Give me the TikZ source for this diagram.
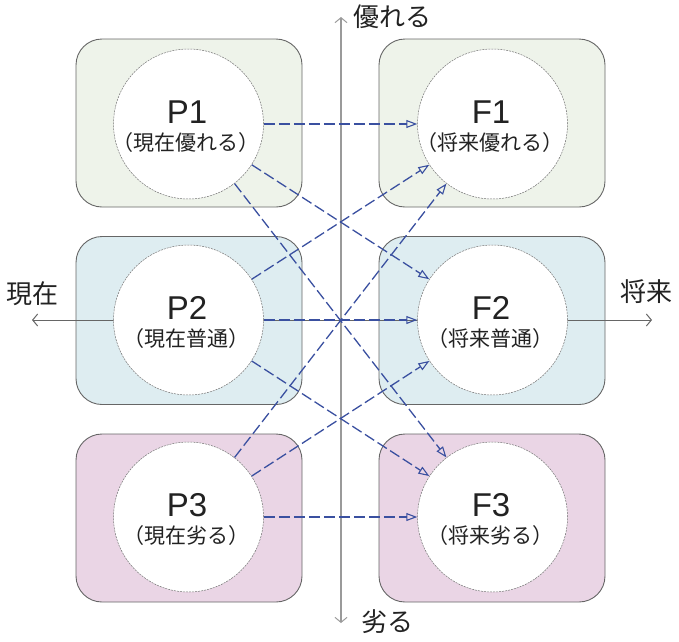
\documentclass[tikz,border=0pt]{standalone}
\usepackage{fontspec}
\setmainfont{Noto Sans CJK JP}
\newfontfamily\latinfont{Liberation Sans}
\usetikzlibrary{arrows.meta}
\definecolor{rowA}{HTML}{EEF3EA}
\definecolor{rowB}{HTML}{DEEDF1}
\definecolor{rowC}{HTML}{EAD5E5}
\definecolor{conn}{HTML}{3A50A0}
\definecolor{txt}{HTML}{222222}
\definecolor{axisgray}{HTML}{9A9A9A}
\tikzset{
  panel/.style={draw=black!60, line width=0.9pt, rounded corners=26pt, minimum width=226pt, minimum height=168pt, inner sep=0pt},
  bubble/.style={circle, fill=white, draw=black!55, line width=0.5pt, dash pattern=on 2pt off 1pt, minimum size=150pt, inner sep=0pt},
  bigtxt/.style={text=txt, font=\latinfont\fontsize{33}{36}\selectfont, inner sep=0pt},
  subtxt/.style={text=txt, font=\fontsize{21}{24}\selectfont, inner sep=0pt},
  axlabel/.style={text=txt, font=\fontsize{26}{28}\selectfont, inner sep=0pt},
  axisline/.style={draw=axisgray, line width=1.3pt, -{Straight Barb[length=5pt,width=12pt,line width=1pt]}},
  haxis/.style={draw=black!60, line width=1pt},
  connector/.style={draw=conn, line width=1.3pt, dash pattern=on 11pt off 4pt, -{Triangle[open, length=11pt, width=8pt, line width=1.1pt]}}
}
\begin{document}
\begin{tikzpicture}[x=1pt,y=-1pt]
\useasboundingbox (0,0) rectangle (679,641);
% panels
\node[panel, fill=rowA] (RP1) at (189,123) {};
\node[panel, fill=rowA] (RF1) at (492,123) {};
\node[panel, fill=rowB] (RP2) at (189,320.5) {};
\node[panel, fill=rowB] (RF2) at (492,320.5) {};
\node[panel, fill=rowC] (RP3) at (189,518) {};
\node[panel, fill=rowC] (RF3) at (492,518) {};
% axes
\coordinate (L) at (32,320);
\coordinate (R) at (652,320);
\coordinate (T) at (341,17);
\coordinate (B) at (341,623);
\coordinate (C) at (341,320);
\draw[haxis, -{Straight Barb[length=5pt,width=12pt,line width=1pt]}] (C) -- (L);
\draw[haxis, -{Straight Barb[length=5pt,width=12pt,line width=1pt]}] (C) -- (R);
\draw[axisline] (C) -- (T);
\draw[axisline] (C) -- (B);
\node[axlabel, anchor=west] (ltop) at (353,17) {優れる};
\node[axlabel, anchor=west] (lbot) at (361,622) {劣る};
\node[axlabel] (lleft) at (32,294) {現在};
\node[axlabel] (lright) at (646,292) {将来};
% circles
\node[bubble] (P1) at (188.5,124) {};
\node[bubble] (F1) at (492.5,124) {};
\node[bubble] (P2) at (188.5,320) {};
\node[bubble] (F2) at (492.5,320) {};
\node[bubble] (P3) at (188.5,517) {};
\node[bubble] (F3) at (492.5,517) {};
% texts
\node[bigtxt] (tP1) at (187,112) {P1};
\node[subtxt] (sP1) at (186,143) {（現在優れる）};
\node[bigtxt] (tF1) at (491,112) {F1};
\node[subtxt] (sF1) at (490,143) {（将来優れる）};
\node[bigtxt] (tP2) at (187,308) {P2};
\node[subtxt] (sP2) at (186,339) {（現在普通）};
\node[bigtxt] (tF2) at (491,308) {F2};
\node[subtxt] (sF2) at (490,339) {（将来普通）};
\node[bigtxt] (tP3) at (187,505) {P3};
\node[subtxt] (sP3) at (186,536) {（現在劣る）};
\node[bigtxt] (tF3) at (491,505) {F3};
\node[subtxt] (sF3) at (490,536) {（将来劣る）};
% connectors
\foreach \p in {P1,P2,P3}{
  \foreach \f in {F1,F2,F3}{
    \draw[connector] (\p) -- (\f);
  }
}
\end{tikzpicture}
\end{document}
